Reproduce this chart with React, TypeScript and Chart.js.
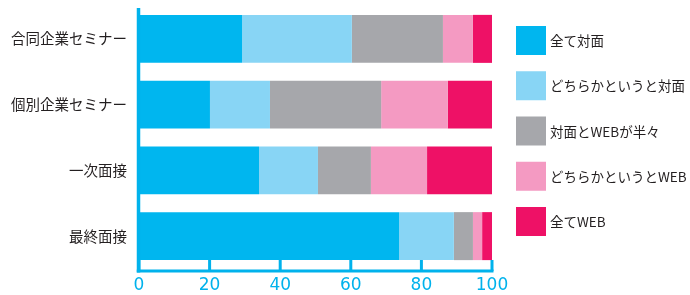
import React, { useEffect, useRef } from "react";
import { Chart, registerables } from "chart.js";

Chart.register(...registerables);

const categories = ["合同企業セミナー", "個別企業セミナー", "一次面接", "最終面接"];
const seriesNames = ["全て対面", "どちらかというと対面", "対面とWEBが半々", "どちらかというとWEB", "全てWEB"];
const allFace = [29.2, 20.1, 34.0, 73.7];
const mostlyFace = [31.1, 17.0, 16.7, 15.5];
const halfHalf = [25.8, 31.5, 15.0, 5.4];
const mostlyWeb = [8.5, 18.9, 15.9, 2.6];
const allWeb = [5.4, 12.5, 18.4, 2.8];
const xTicks = [0, 20, 40, 60, 80, 100];

const colors = ["#00b6ef", "#88d5f5", "#a6a7ab", "#f49ac2", "#ee1166"];
const AXIS = "#00b2ec";

const axisPlugin = {
  id: "customAxis",
  afterDatasetsDraw(chart: any) {
    const ctx = chart.ctx;
    const xs = chart.scales.x;
    const x0 = xs.getPixelForValue(0);
    const baseY = 271;
    ctx.save();
    ctx.strokeStyle = AXIS;
    ctx.lineCap = "butt";
    ctx.lineWidth = 3.5;
    ctx.beginPath();
    ctx.moveTo(x0 - 0.5, 8);
    ctx.lineTo(x0 - 0.5, baseY + 1.5);
    ctx.stroke();
    ctx.lineWidth = 3;
    ctx.beginPath();
    ctx.moveTo(x0 - 2.2, baseY);
    ctx.lineTo(xs.getPixelForValue(100) + 1.5, baseY);
    ctx.stroke();
    xTicks.forEach((v) => {
      const px = xs.getPixelForValue(v);
      ctx.beginPath();
      ctx.moveTo(px, 260);
      ctx.lineTo(px, baseY);
      ctx.stroke();
    });
    ctx.restore();
  },
};

const legendPlugin = {
  id: "customLegend",
  afterDraw(chart: any) {
    const ctx = chart.ctx;
    ctx.save();
    chart.data.datasets.forEach((ds: any, i: number) => {
      const y = 26 + i * 45.25;
      ctx.fillStyle = ds.backgroundColor;
      ctx.fillRect(516, y, 30, 29);
      ctx.fillStyle = "#231f20";
      ctx.font = '13.5px "Noto Sans CJK JP", "Noto Sans", sans-serif';
      ctx.textBaseline = "middle";
      ctx.textAlign = "left";
      ctx.fillText(ds.label, 550, y + 15);
    });
    ctx.restore();
  },
};

export default function App() {
  const ref = useRef<HTMLCanvasElement>(null);
  useEffect(() => {
    if (!ref.current) return;
    const seriesData = [allFace, mostlyFace, halfHalf, mostlyWeb, allWeb];
    const chart = new Chart(ref.current, {
      type: "bar",
      data: {
        labels: categories,
        datasets: seriesNames.map((name, i) => ({
          label: name,
          data: seriesData[i],
          backgroundColor: colors[i],
          borderWidth: 0,
          barPercentage: 0.73,
          categoryPercentage: 1,
        })),
      },
      options: {
        indexAxis: "y",
        responsive: false,
        animation: false,
        devicePixelRatio: 1,
        layout: { padding: { top: 6, right: 198, left: 0, bottom: 0 } },
        plugins: { legend: { display: false }, tooltip: { enabled: false } },
        scales: {
          x: {
            stacked: true,
            min: 0,
            max: 100,
            afterFit: (s: any) => {
              s.height = 26;
              s.paddingLeft = 0;
              s.paddingRight = 0;
              s.paddingTop = 0;
              s.paddingBottom = 0;
            },
            afterBuildTicks: (s: any) => {
              s.ticks = xTicks.map((v) => ({ value: v }));
            },
            grid: { display: false, drawTicks: false },
            border: { display: false },
            ticks: {
              padding: 6,
              color: AXIS,
              font: { family: '"DejaVu Sans", sans-serif', size: 17, weight: "normal" },
              maxRotation: 0,
              autoSkip: false,
            },
          },
          y: {
            stacked: true,
            afterFit: (s: any) => {
              s.width = 139;
              s.paddingTop = 0;
              s.paddingBottom = 0;
              s.paddingLeft = 0;
              s.paddingRight = 0;
            },
            grid: { display: false, drawTicks: false },
            border: { display: false },
            ticks: {
              padding: 12,
              color: "#231f20",
              font: { family: '"Noto Sans CJK JP", sans-serif', size: 14.5 },
            },
          },
        },
      },
      plugins: [axisPlugin, legendPlugin],
    });
    return () => chart.destroy();
  }, []);
  return (
    <div style={{ position: "fixed", left: 0, top: 0, width: 690, height: 295, background: "#fff" }}>
      <canvas ref={ref} width={690} height={295} style={{ display: "block" }} />
    </div>
  );
}
